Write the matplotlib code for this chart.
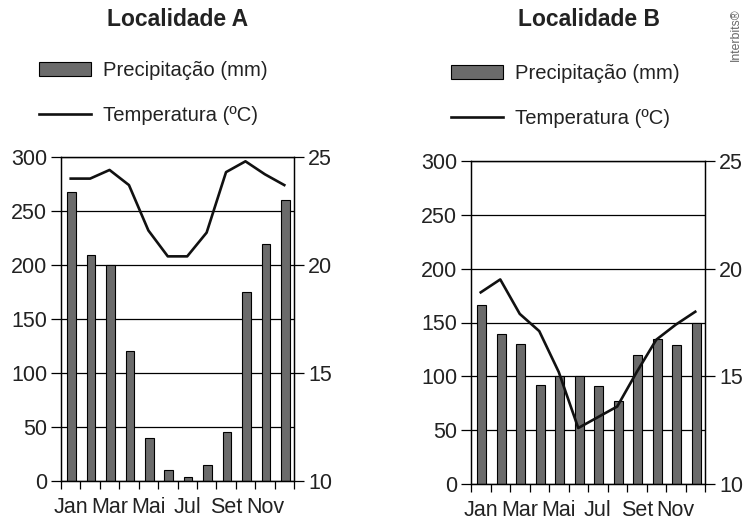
import numpy as np
import matplotlib
matplotlib.use("Agg")
from matplotlib import pyplot as plt
from matplotlib.patches import Rectangle
from matplotlib.lines import Line2D

plt.rcParams['font.family'] = ['Liberation Sans', 'DejaVu Sans']

months = ['Jan', 'Fev', 'Mar', 'Abr', 'Mai', 'Jun', 'Jul', 'Ago', 'Set', 'Out', 'Nov', 'Dez']
shown_labels = ['Jan', 'Mar', 'Mai', 'Jul', 'Set', 'Nov']

precip_a = [268, 209, 200, 120, 40, 10, 4, 15, 45, 175, 219, 260]
temp_a = [24.0, 24.0, 24.4, 23.7, 21.6, 20.4, 20.4, 21.5, 24.3, 24.8, 24.2, 23.7]

precip_b = [166, 139, 130, 92, 100, 100, 91, 77, 120, 135, 129, 150]
temp_b = [18.9, 19.5, 17.9, 17.1, 15.2, 12.6, 13.1, 13.6, 15.2, 16.7, 17.4, 18.0]

W, H = 746, 523
fig = plt.figure(figsize=(W / 100, H / 100), dpi=100)

BAR_COLOR = '#6b6b6b'
TXT = '#222222'
TICK_FS = 15.5


def px_rect(l, t, r, b):
    return [l / W, 1 - b / H, (r - l) / W, (b - t) / H]


def draw_panel(rect, precip, temp, title, title_xy, leg_xy):
    ax = fig.add_axes(rect)
    x = np.arange(len(months))
    ax.bar(x + 0.05, precip, width=0.44, color=BAR_COLOR, edgecolor='black',
           linewidth=0.8, zorder=2)
    ax.set_xlim(-0.5, 11.5)
    ax.set_ylim(0, 300)
    ax.set_yticks(np.arange(0, 301, 50))
    ax.yaxis.grid(True, color='black', linewidth=0.9)
    ax.set_axisbelow(True)

    ax.set_xticks(np.arange(-0.5, 12, 1))
    ax.set_xticklabels([])
    ax.set_xticks(np.arange(0, 12, 2), minor=True)
    ax.set_xticklabels(shown_labels, minor=True)
    ax.tick_params(axis='x', which='major', length=6, width=0.9, direction='out')
    ax.tick_params(axis='x', which='minor', length=0, pad=11.5, labelsize=TICK_FS, labelcolor=TXT)
    ax.tick_params(axis='y', length=7, width=0.9, labelsize=TICK_FS, labelcolor=TXT, pad=3)
    for sp in ax.spines.values():
        sp.set_linewidth(0.9)

    ax2 = ax.twinx()
    ax2.plot(x, temp, color='#111111', linewidth=1.9, zorder=3)
    ax2.set_ylim(10, 25)
    ax2.set_yticks([10, 15, 20, 25])
    ax2.tick_params(axis='y', length=7, width=0.9, labelsize=TICK_FS, labelcolor=TXT, pad=3)
    for sp in ax2.spines.values():
        sp.set_linewidth(0.9)

    fig.text(title_xy[0] / W, 1 - title_xy[1] / H, title, ha='center', va='center',
             fontsize=16.5, fontweight='bold', color=TXT)

    h_bar = Rectangle((0, 0), 1, 1, facecolor=BAR_COLOR, edgecolor='black', linewidth=0.8)
    h_line = Line2D([], [], color='#111111', linewidth=1.9)
    fig.legend([h_bar, h_line], ['Precipitação (mm)', 'Temperatura (ºC)'],
               loc='upper left', bbox_to_anchor=(leg_xy[0] / W, 1 - leg_xy[1] / H),
               frameon=False, fontsize=14.6, handlelength=2.55, handleheight=0.7,
               handletextpad=0.62, labelspacing=1.3, borderpad=0, borderaxespad=0,
               labelcolor=TXT)
    return ax


draw_panel(px_rect(61, 157, 294, 481), precip_a, temp_a, 'Localidade A', (178, 20), (39, 61))
draw_panel(px_rect(471, 161, 705, 484), precip_b, temp_b, 'Localidade B', (589, 20), (451, 64))

fig.text(736 / W, 1 - 35 / H, 'Interbits®', rotation=90, ha='center', va='center',
         fontsize=8.8, color='#666666')

fig.savefig('out.png', dpi=100)
